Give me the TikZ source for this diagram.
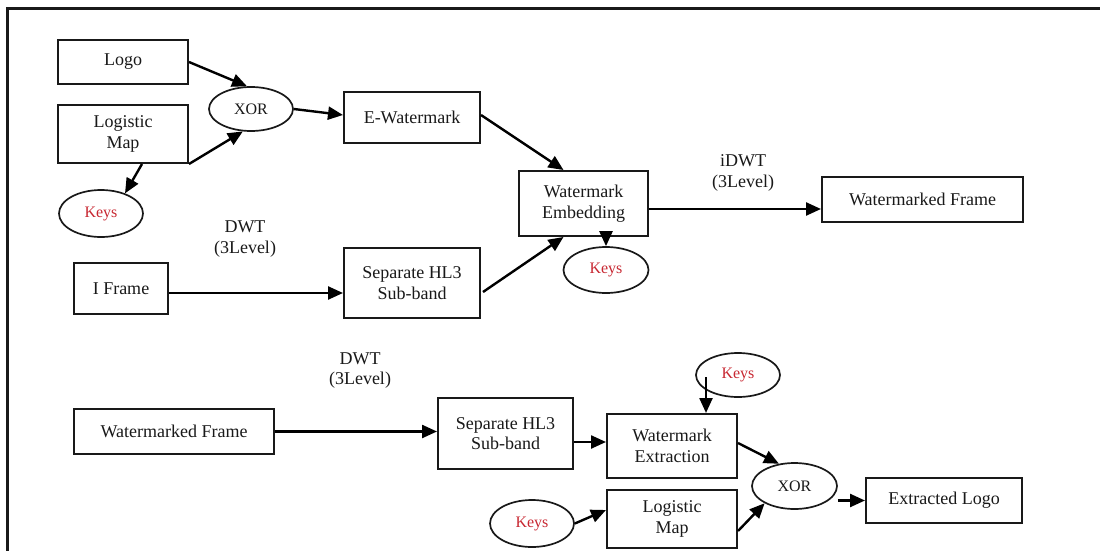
\documentclass[tikz,border=0pt]{standalone}
\usepackage{fontspec}
\setmainfont{Liberation Serif}
\usetikzlibrary{arrows.meta,shapes.geometric,calc}
\definecolor{keyred}{RGB}{200,40,50}
\definecolor{ink}{RGB}{25,25,25}
\begin{document}
\begin{tikzpicture}[x=1pt,y=-1pt,
  box/.style={draw=ink,line width=2pt,rectangle,align=center,inner sep=0pt,
    font=\fontsize{18}{20.5}\selectfont,text=ink},
  oval/.style={draw=ink,line width=1.7pt,ellipse,inner sep=0pt,
    font=\fontsize{16}{18}\selectfont,text=ink},
  keyoval/.style={oval,text=keyred},
  lbl/.style={align=center,font=\fontsize{18}{20.5}\selectfont,text=ink,inner sep=0pt},
  arr/.style={draw=black,line width=2.4pt,-{Triangle[length=15pt,width=13pt]}}]
\useasboundingbox (0,0) rectangle (1100,551);
\fill[white] (0,0) rectangle (1100,551);
\draw[line width=2.2pt,ink] (7.5,551) -- (7.5,8.5) -- (1100,8.5);
% top part
\node[box,minimum width=130,minimum height=44] (logo) at (123,62) {Logo};
\node[box,minimum width=130,minimum height=58] (lmap) at (123,134) {Logistic\\Map};
\node[oval,minimum width=84,minimum height=44] (xor1) at (251,109) {XOR};
\node[keyoval,minimum width=84,minimum height=47] (keys1) at (101,213.5) {Keys};
\node[box,minimum width=136,minimum height=51] (ewm) at (412,117.5) {E-Watermark};
\node[box,minimum width=129,minimum height=65] (we) at (583.5,203.5) {Watermark\\Embedding};
\node[keyoval,minimum width=85,minimum height=46] (keys2) at (606,270) {Keys};
\node[box,minimum width=136,minimum height=70] (sep1) at (412,283) {Separate HL3\\Sub-band};
\node[box,minimum width=94,minimum height=51] (iframe) at (121,288.5) {I Frame};
\node[box,minimum width=201,minimum height=45] (wmf1) at (922.5,199.5) {Watermarked Frame};
\node[lbl] (dwt1) at (245,239) {DWT\\(3Level)};
\node[lbl] (idwt) at (743,173) {iDWT\\(3Level)};
% bottom part
\node[box,minimum width=200,minimum height=45] (wmf2) at (174,431.5) {Watermarked Frame};
\node[lbl] (dwt2) at (360,370.5) {DWT\\(3Level)};
\node[box,minimum width=135,minimum height=71] (sep2) at (505.5,433.5) {Separate HL3\\Sub-band};
\node[box,minimum width=130,minimum height=64] (wext) at (672,446) {Watermark\\Extraction};
\node[keyoval,minimum width=84,minimum height=44] (keys3) at (738,375) {Keys};
\node[oval,minimum width=85,minimum height=46] (xor2) at (794.5,486) {XOR};
\node[box,minimum width=130,minimum height=58] (lmap2) at (672,519) {Logistic\\Map};
\node[keyoval,minimum width=84,minimum height=47] (keys4) at (532,523.5) {Keys};
\node[box,minimum width=156,minimum height=45] (elogo) at (944,500.5) {Extracted Logo};
% connectors top
\draw[arr] (logo.east) -- (xor1.100);
\draw[arr] (lmap.south east) -- (xor1.250);
\draw[arr] ($(lmap.south)+(19,0)$) -- (keys1.40);
\draw[arr] (xor1.east) -- ($(ewm.west)+(0,-2.5)$);
\draw[arr] ($(ewm.east)+(0,-2.5)$) -- ($(we.north)+(-20,0)$);
\draw[arr] ($(sep1.east)+(2,9)$) -- ($(we.south)+(-20,0)$);
\draw[arr] (we.south -| keys2.north) -- (keys2.north);
\draw[arr] ($(iframe.east)+(0,4.5)$) coordinate (c1) -- (c1 -| sep1.west);
\draw[arr] ($(we.east)+(0,5.5)$) coordinate (c2) -- (c2 -| wmf1.west);
% connectors bottom
\draw[arr] (wmf2.east) -- (wmf2.east -| sep2.west);
\draw[arr] ($(sep2.east)+(0,8.5)$) coordinate (c3) -- (c3 -| wext.west);
\draw[arr] ($(keys3.center)+(-32,2)$) coordinate (c4) -- (c4 |- wext.north);
\draw[arr] ($(wext.east)+(0,-3)$) -- (xor2.125);
\draw[arr] ($(lmap2.east)+(0,12)$) -- (xor2.210);
\draw[arr] (keys4.east) -- ($(lmap2.west)+(0,-9)$);
\draw[arr] (elogo.west -| xor2.east) -- (elogo.west);
\end{tikzpicture}
\end{document}
